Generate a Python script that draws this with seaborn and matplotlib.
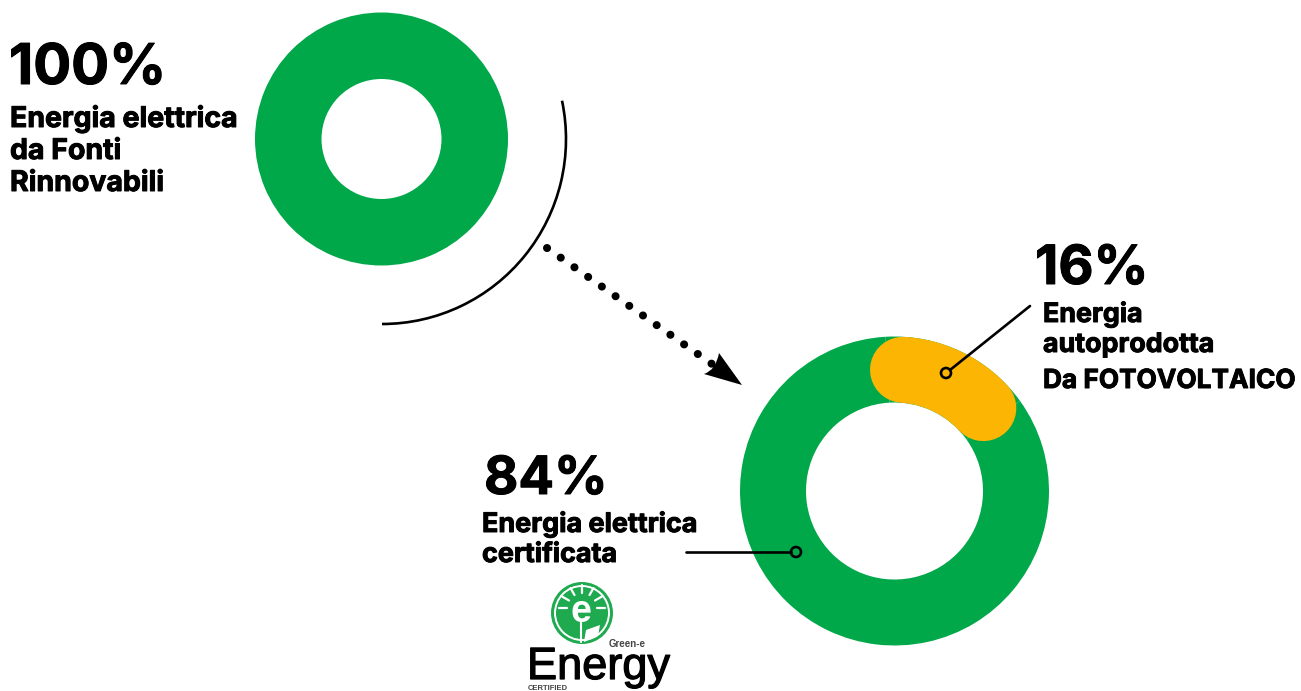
import numpy as np
import pandas as pd
import matplotlib
matplotlib.use('Agg')
import matplotlib.pyplot as plt
import matplotlib.patheffects as pe
import seaborn as sns
from matplotlib.patches import Arc, Circle, PathPatch, Polygon
from matplotlib.path import Path

# Data
full_share = [100]
split_labels = ['Autoprodotta', 'Certificata']
split_share = [16, 84]

title_full = '100%'
text_full = ['Energia elettrica', 'da Fonti', 'Rinnovabili']
title_solar = '16%'
text_solar = ['Energia', 'autoprodotta', 'Da FOTOVOLTAICO']
title_cert = '84%'
text_cert = ['Energia elettrica', 'certificata']

GREEN = '#00A84A'
ORANGE = '#FDB503'
W, H = 1301, 691

sns.set_theme(style='white')
plt.rcParams['font.family'] = ['Inter', 'DejaVu Sans']

fig = plt.figure(figsize=(W / 100, H / 100), dpi=100)


def pixel_axes(cx, cy, r):
    # axes square around a donut, given in picture pixels
    ax = fig.add_axes([(cx - r) / W, 1 - (cy + r) / H, 2 * r / W, 2 * r / H])
    ax.set_aspect('equal')
    ax.axis('off')
    return ax


# Top donut
ax_top = pixel_axes(381.5, 139, 126.5)
ax_top.pie(full_share, colors=[GREEN], radius=1,
           wedgeprops={'width': 1 - 60 / 126.5, 'linewidth': 0})
ax_top.set(xlim=(-1, 1), ylim=(-1, 1))

# Bottom donut, the solar slice is redrawn on top with round ends
R_OUT, R_IN = 154.5, 88.5
ax_low = pixel_axes(894.5, 491, R_OUT)
slice_deg = split_share[0] * 3.6
slice_mid = 64.5
ax_low.pie(split_share, colors=[GREEN, GREEN], radius=1,
           startangle=slice_mid - slice_deg / 2,
           wedgeprops={'width': 1 - R_IN / R_OUT, 'linewidth': 0})
ax_low.set(xlim=(-1, 1), ylim=(-1, 1))

# round caps stick out, so the centre line is shorter than the slice
angles = np.radians(np.linspace(slice_mid - slice_deg * 0.373, slice_mid + slice_deg * 0.373, 60))
r_mid = (1 + R_IN / R_OUT) / 2
arc_df = pd.DataFrame({'x': r_mid * np.cos(angles), 'y': r_mid * np.sin(angles)})
sns.lineplot(data=arc_df, x='x', y='y', ax=ax_low, color=ORANGE, sort=False, estimator=None,
             linewidth=(R_OUT - R_IN) * 0.72, solid_capstyle='round', legend=False)
ax_low.set(xlim=(-1, 1), ylim=(-1, 1))
ax_low.axis('off')

# Overlay in pixel coordinates for the notes
ov = fig.add_axes([0, 0, 1, 1])
ov.set(xlim=(0, W), ylim=(H, 0))
ov.axis('off')
ov.patch.set_alpha(0)

# thin arc around the top donut
ov.add_patch(Arc((382, 139), 368, 370, angle=0, theta1=-12, theta2=90, color='black', lw=1.9))

# dotted arrow
ov.plot([547, 712], [248, 364], color='black', lw=5.8,
        linestyle=(0, (0.01, 2.07)), dash_capstyle='round')
head = Path([(742, 385), (704, 374), (716, 370), (719, 353), (742, 385)],
            [Path.MOVETO, Path.LINETO, Path.CURVE3, Path.CURVE3, Path.CLOSEPOLY])
ov.add_patch(PathPatch(head, fc='black', ec='none'))

# connector lines
ov.plot([1030, 950], [306, 370], color='black', lw=1.9)
ov.add_patch(Circle((946, 373), 5, fc='none', ec='black', lw=1.9))
ov.plot([686, 791], [552, 552], color='black', lw=1.9)
ov.add_patch(Circle((796, 552), 5, fc='none', ec='black', lw=1.9))

heavy = [pe.withStroke(linewidth=0.7, foreground='black')]


def big(x, y, s, size):
    ov.text(x, y, s, fontsize=size, fontweight='bold', color='black', va='baseline', ha='left',
            path_effects=heavy)


def lines(x, y, rows, step, size):
    for i, row in enumerate(rows):
        ov.text(x, y + i * step, row, fontsize=size, fontweight='bold', color='black',
                va='baseline', ha='left', path_effects=heavy)


big(9, 84, title_full, 40.5)
lines(10, 127, text_full, 32, 20.5)
big(1035, 284, title_solar, 39)
lines(1043, 322, text_solar[:2], 30, 19.3)
lines(1043, 388, text_solar[2:], 30, 18.9)
big(484, 494, title_cert, 38)
lines(482, 532, text_cert, 30, 19.4)

# logo
ov.add_patch(Circle((582, 613), 31, fc='#1FAA50', ec='none'))
ov.add_patch(Circle((582, 613), 27, fc='none', ec='white', lw=1.4))
for deg in [-150, -120, -90, -60, -30, 180, 0]:
    a = np.radians(deg)
    ov.plot([582 + 15 * np.cos(a), 582 + 23 * np.cos(a)], [608 + 15 * np.sin(a), 608 + 23 * np.sin(a)],
            color='white', lw=1.6)
ov.text(581, 612, 'e', fontsize=27, fontweight='bold', color='white', ha='center', va='center',
        family=['Liberation Sans'])
ov.plot([581, 581], [622, 642], color='white', lw=1.5)
ov.add_patch(Polygon([(584, 642), (586, 630), (600, 625), (598, 636)], fc='white', ec='none'))
ov.text(627, 644, 'Green-e', fontsize=7, fontweight='bold', color='#444444', ha='center', va='center',
        family=['Liberation Sans'])
ov.text(527, 679, 'Energy', fontsize=32.5, color='black', ha='left', va='baseline',
        family=['Liberation Sans'], path_effects=[pe.withStroke(linewidth=0.9, foreground='black')])
ov.text(528, 690, 'CERTIFIED', fontsize=5.5, fontweight='bold', color='#444444', ha='left',
        va='baseline', family=['Liberation Sans'])

fig.savefig('out.png', dpi=100, facecolor='white')
